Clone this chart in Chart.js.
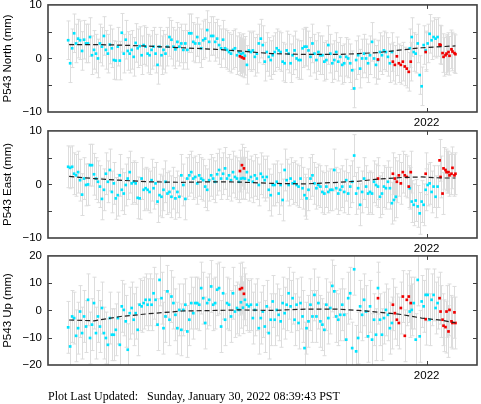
<!DOCTYPE html>
<html>
<head>
<meta charset="utf-8">
<script src="https://cdn.jsdelivr.net/npm/chart.js@4.4.1/dist/chart.umd.min.js"></script>
<style>
  body { margin: 0; background: #fff; }
  #wrap { position: relative; width: 481px; height: 404px; overflow: hidden; }
  canvas { position: absolute; left: 0; }
  #footer {
    position: absolute; left: 48px; top: 389px;
    font: 12px "Liberation Serif", "Times New Roman", serif;
    line-height: 14px; white-space: pre; color: #000;
  }
</style>
</head>
<body>
<div id="wrap">
  <canvas id="north" width="481" height="140"></canvas>
  <canvas id="east" width="481" height="140"></canvas>
  <canvas id="up" width="481" height="140"></canvas>
  <div id="footer">Plot Last Updated:   Sunday, January 30, 2022 08:39:43 PST</div>
</div>
<script>
// days counted from 2021-01-01
let days = [4,6,8,10,12,14,16,18,20,22,24,26,28,30,32,34,36,38,40,42,44,46,48,50,52,54,56,58,60,62,64,66,68,70,72,74,76,78,80,82,84,86,88,90,92,94,96,98,100,102,104,106,108,110,112,114,116,118,120,122,124,126,128,130,132,134,136,138,140,142,144,146,148,150,152,154,156,158,160,162,164,166,168,170,172,174,176,
  178,180,182,184,186,188,190,192,194,196,198,200,202,204,206,208,210,212,214,216,218,220,222,224,226,228,230,232,234,236,238,240,242,244,246,248,250,252,254,256,258,260,262,264,266,268,270,272,274,276,278,280,282,284,286,288,290,292,294,296,298,300,302,304,306,308,310,312,314,316,318,320,322,324,326,328,330,332,334,336,338,340,342,344,346,348,350,352,354,356,358,360,362,364,366,368,370,372,374,376];

let north = [3.4,-0.9,1.9,4.7,2.8,3.7,3.4,1.4,3.5,2.8,2.8,4.0,0.6,1.6,0.9,0.0,2.8,2.2,4.2,1.6,0.9,2.6,1.9,-0.3,-0.4,2.2,-0.4,4.8,0.9,3.5,1.4,0.9,1.6,0.3,2.9,1.9,2.3,0.6,2.5,2.2,0.9,0.6,1.6,2.2,0.9,-1.2,2.2,0.6,1.6,0.9,2.2,4.0,3.5,2.2,1.7,3.1,2.2,2.8,1.6,2.8,1.6,4.7,4.7,3.1,2.8,4.0,2.8,1.9,3.4,3.7,5.3,3.1,4.2,4.2,3.1,3.7,2.5,1.9,3.5,1.9,1.6,1.2,0.9,1.6,1.9,0.6,1.2,
  0.8,1.0,0.5,-1.2,1.5,1.2,1.5,0.3,0.9,2.8,3.7,2.5,-0.6,1.2,0.3,-0.3,0.6,1.2,1.9,1.5,1.2,-0.6,-0.9,1.5,0.9,-0.9,0.6,1.5,0,-0.3,-0.3,1.9,2.2,2.2,1.5,0.3,2.8,0.9,-0.3,1.2,0.6,0.6,-0.6,-0.3,2.5,0.9,-0.9,-0.3,1.2,-0.6,0.3,-1.2,-0.9,0.3,0,-0.9,-2.2,-5.6,-0.3,0.6,-1.9,0,0.9,0,-0.9,0.6,3.1,0,-1.2,-0.3,1.2,0.6,1.5,1.2,0.3,-0.9,1.2,
  null,null,null,null,null,null,null,null,1.9,4.0,1.2,0.9,2.8,-3.1,-5.2,2.5,1.5,2.8,4.6,3.4,4.0,3.7,4.0];

let east = [3.3,3.1,3.3,2.0,1.7,2.3,0.8,-1.9,1.1,-0.1,0,3.6,3.6,1.9,1.1,0.5,-0.4,-2.7,-1.0,2.0,0.5,2.7,-1.4,0.2,-2.6,-2.0,1.7,-1.0,-1.7,-0.1,1.1,2.3,0.2,0.5,0.2,-2.5,-2.6,1.1,-1.0,-0.7,-1.0,-1.4,0.8,-0.7,0.2,-3.2,-2.0,-2.3,-1.0,0.5,-1.7,-1.4,-2.3,-0.7,-2.6,-1.4,-2.3,1.7,-0.1,-2.7,1.1,1.7,2.3,1.1,1.4,0.2,1.7,1.1,0.8,-0.4,-1.0,0.8,1.7,1.1,0.5,1.9,2.7,1.1,2.0,3.0,1.1,1.7,0.8,2.3,1.4,1.1,0.5,
  1.1,1.2,1.1,2.3,0.8,1.4,0.5,1.7,1.1,-0.1,2.0,1.4,0.8,1.4,-1.0,-2.0,-0.1,-0.1,0.5,-1.7,-0.1,-2.9,2.7,0.8,-0.1,1.1,0.2,0.5,-0.1,-0.4,1.1,-0.7,-2.0,-2.6,-1.0,1.1,1.7,0.2,-0.7,-0.1,-0.4,-1.4,-1.7,-0.4,-1.4,-1.0,-1.0,2.7,-0.7,-1.7,-1.0,-0.4,-1.4,0.8,-1.7,-0.4,0.5,5.4,-1.7,-0.7,-3.8,-1.4,1.1,-0.4,-1.7,-1.4,-1.7,0.5,-0.1,-0.4,-2.3,-1.7,-0.4,-0.7,0.5,-0.7,-3.5,-2.9,-2.3,
  null,null,null,null,null,null,-0.7,-3.2,-3.8,-3.0,-4.1,-5.4,-3.2,-3.8,-1.0,-0.1,0.2,-1.4,-0.4,-2.3,-0.4];

let up = [-6.2,-13.2,-2.2,-2.8,-9.3,-6.5,-0.4,-8.3,-2.2,-5.9,3.9,-10.1,-5.2,2.7,-8.3,-2.2,-5.9,0.9,-8.3,-10.1,-12.6,-2.8,-8.9,-8.9,-7.1,-2.8,-12.6,1.5,0.2,-4.0,-14.4,-1.0,0.9,-3.4,-1.0,-7.1,2.1,1.5,2.7,3.9,2.1,3.9,2.1,6.3,3.9,-5.2,11.2,4.5,-6.5,-2.2,7.0,-3.4,5.1,2.7,-1.6,-6.5,0.2,-7.1,0.2,2.1,-7.7,-3.4,2.7,-1.0,2.7,2.7,2.1,8.2,4.5,-4.6,2.7,3.9,8.8,2.1,2.7,7.6,8.2,-5.9,6.3,-3.4,2.7,2.1,-2.2,6.3,-0.4,0.9,0.2,
  3.0,1.0,3.9,2.1,1.5,2.1,-2.8,0.2,2.1,-6.5,-2.8,-0.4,-5.9,1.5,-8.3,-3.4,3.3,-3.4,0.2,-1.6,-4.0,2.7,-1.0,2.1,6.3,1.5,4.5,-3.4,2.1,-4.6,2.7,-2.2,-13.8,-6.5,-4.0,2.1,-2.2,5.7,-2.2,2.7,-4.0,-5.2,-7.1,2.1,-2.8,0.9,9.0,7.0,-2.2,-3.4,-1.6,2.1,-1.6,-10.7,4.5,6.3,-13.8,15.1,-15.0,-10.1,1.5,-1.6,3.9,-0.4,-9.5,1.5,-10.7,-3.4,-8.9,8.2,-3.4,-8.9,-2.8,0.2,-1.6,-6.5,-4.6,
  null,null,null,null,null,null,null,null,-0.4,0.2,2.7,-10.7,11.2,-9.5,3.3,1.5,5.7,5.7,-3.4,3.9,5.7,0.9,2.7];

// rapid (red) solutions
let rapidDays = [177,179,181,316,331,333,335,337,339,341,343,345,347,349,364,378,379,381,382,384,385,387,388,390,391,393,394];
let northRapid = [0.4,0.2,0.0,-0.2,-0.6,-1.2,0.4,-0.9,-1.2,-0.6,-1.5,-1.9,-2.5,-0.6,1.2,2.6,2.5,1.0,0.3,0.6,0.9,1.2,0.5,1.7,1.3,1.0,0.8];
let eastRapid = [2.5,3.6,3.0,1.1,2.0,1.1,0.5,1.7,0.2,2.3,1.7,1.4,-0.4,2.3,2.0,4.5,1.4,-1.7,3.0,2.7,2.3,2.3,1.7,2.0,3.1,1.7,2.0];
let upRapid = [7.8,8.2,6.1,4.5,2.1,-1.0,-3.4,-4.6,0.9,5.1,-9.3,3.9,5.1,2.7,-3.2,4.5,-0.4,-3.4,-5.6,-6.1,-0.4,-7.7,0.2,-4.0,-4.6,-0.7,-4.6];

// model curve
let trendDays = [5,30,55,85,119,153,176,209,243,276,296,316,340,360,380,394];
let northTrend = [2.6,2.6,2.5,2.3,2.0,1.7,1.4,0.9,0.75,0.75,0.9,1.1,1.6,2.0,2.2,2.35];
let eastTrend = [1.5,1.1,0.8,0.5,0.4,0.5,0.45,0.2,0.1,0.4,0.6,1.0,1.3,1.4,1.2,1.2];
let upTrend = [-3.5,-3.8,-2.3,-1.2,-0.2,0.0,0.2,0.0,0.5,0.5,0.0,-0.6,-1.5,-2.8,-3.6,-4.5];

// one sigma error (mm)
let northSigma = 3.6;
let eastSigma = 3.9;
let upSigma = 9.5;

let xTickValues = [365];
let xTickLabels = ["2022"];

Chart.defaults.font.family = "'Liberation Sans', Arial, sans-serif";
Chart.defaults.font.size = 11.5;
Chart.defaults.color = "#000";

function minus(v) {
  return String(v).replace("-", "\u2212");
}

let framePlugin = {
  id: "frame",
  beforeDatasetsDraw(chart) {
    let { ctx, chartArea: a, scales } = chart;
    ctx.save();
    ctx.beginPath();
    ctx.rect(a.left, a.top, a.right - a.left, a.bottom - a.top);
    ctx.clip();
    ctx.strokeStyle = "rgb(221,221,221)";
    ctx.lineWidth = 1;
    chart.data.datasets.forEach((ds) => {
      if (!ds.sigma) return;
      ds.data.forEach((p) => {
        if (p.y == null) return;
        let px = Math.round(scales.x.getPixelForValue(p.x)) + 0.5;
        let y1 = scales.y.getPixelForValue(p.y + ds.sigma);
        let y2 = scales.y.getPixelForValue(p.y - ds.sigma);
        ctx.beginPath();
        ctx.moveTo(px, y1);
        ctx.lineTo(px, y2);
        ctx.moveTo(px - 2, y1);
        ctx.lineTo(px + 2, y1);
        ctx.moveTo(px - 2, y2);
        ctx.lineTo(px + 2, y2);
        ctx.stroke();
      });
    });
    ctx.restore();
  },
  afterDraw(chart) {
    let { ctx, chartArea: a, scales } = chart;
    ctx.save();
    ctx.strokeStyle = "#404040";
    ctx.lineWidth = 1;
    ctx.beginPath();
    scales.y.ticks.forEach((t) => {
      if (t.value === scales.y.min || t.value === scales.y.max) return;
      let py = Math.round(scales.y.getPixelForValue(t.value)) + 0.5;
      ctx.moveTo(a.left, py);
      ctx.lineTo(a.left + 4, py);
      ctx.moveTo(a.right - 4, py);
      ctx.lineTo(a.right, py);
    });
    xTickValues.forEach((v) => {
      let px = Math.round(scales.x.getPixelForValue(v)) + 0.5;
      ctx.moveTo(px, a.top);
      ctx.lineTo(px, a.top + 4);
      ctx.moveTo(px, a.bottom - 4);
      ctx.lineTo(px, a.bottom);
    });
    ctx.stroke();
    ctx.lineWidth = 1.6;
    ctx.strokeRect(a.left, a.top, a.right - a.left, a.bottom - a.top);
    ctx.restore();
  },
};

function toPoints(xs, ys) {
  return xs.map((x, i) => ({ x: x, y: ys[i] ?? null }));
}

// put the plot frame of a panel at the page rows top..bottom
function placePanel(chart, top, bottom) {
  let a = chart.chartArea;
  let h = chart.height + (bottom - top) - (a.bottom - a.top);
  chart.resize(481, Math.round(h));
  a = chart.chartArea;
  chart.canvas.style.top = Math.round(top - a.top) + "px";
}

function loadPanel(id, label, values, rapid, trend, sigma, range) {
  return new Chart(document.getElementById(id), {
    type: "scatter",
    data: {
      datasets: [
        {
          type: "line",
          data: toPoints(trendDays, trend),
          borderColor: "#222",
          borderWidth: 1.2,
          borderDash: [5, 3],
          pointRadius: 0,
          fill: false,
        },
        {
          data: toPoints(rapidDays, rapid),
          sigma: sigma,
          backgroundColor: "rgb(240,0,0)",
          pointStyle: "rect",
          pointRadius: 1.9,
          borderWidth: 0,
        },
        {
          data: toPoints(days, values),
          sigma: sigma,
          backgroundColor: "rgb(0,228,255)",
          pointStyle: "rect",
          pointRadius: 1.9,
          borderWidth: 0,
        },
      ],
    },
    options: {
      responsive: false,
      maintainAspectRatio: false,
      animation: false,
      devicePixelRatio: 1,
      layout: { padding: { left: 0, right: 1, top: 0, bottom: 0 } },
      plugins: { legend: { display: false }, tooltip: { enabled: false } },
      scales: {
        x: {
          type: "linear",
          min: -16.3,
          max: 415.7,
          grid: { display: false, drawTicks: false },
          border: { display: false },
          afterBuildTicks: (s) => {
            s.ticks = xTickValues.map((v) => ({ value: v }));
          },
          afterFit: (s) => {
            s.height = 16;
          },
          ticks: {
            padding: 4,
            maxRotation: 0,
            autoSkip: false,
            callback: (v, i) => xTickLabels[i],
          },
        },
        y: {
          min: -range,
          max: range,
          grid: { display: false, drawTicks: false },
          border: { display: false },
          afterFit: (s) => {
            s.width = 48;
          },
          ticks: {
            stepSize: 5,
            padding: 6,
            callback: (v) => (v % 10 === 0 ? minus(v) : ""),
          },
          title: {
            display: true,
            text: label,
            padding: { top: 1, bottom: 0 },
          },
        },
      },
    },
    plugins: [framePlugin],
  });
}

let northChart = loadPanel("north", "P543 North (mm)", north, northRapid, northTrend, northSigma, 10);
let eastChart = loadPanel("east", "P543 East (mm)", east, eastRapid, eastTrend, eastSigma, 10);
let upChart = loadPanel("up", "P543 Up (mm)", up, upRapid, upTrend, upSigma, 20);

placePanel(northChart, 5, 112);
placePanel(eastChart, 130.5, 238);
placePanel(upChart, 256, 365);
</script>
</body>
</html>
